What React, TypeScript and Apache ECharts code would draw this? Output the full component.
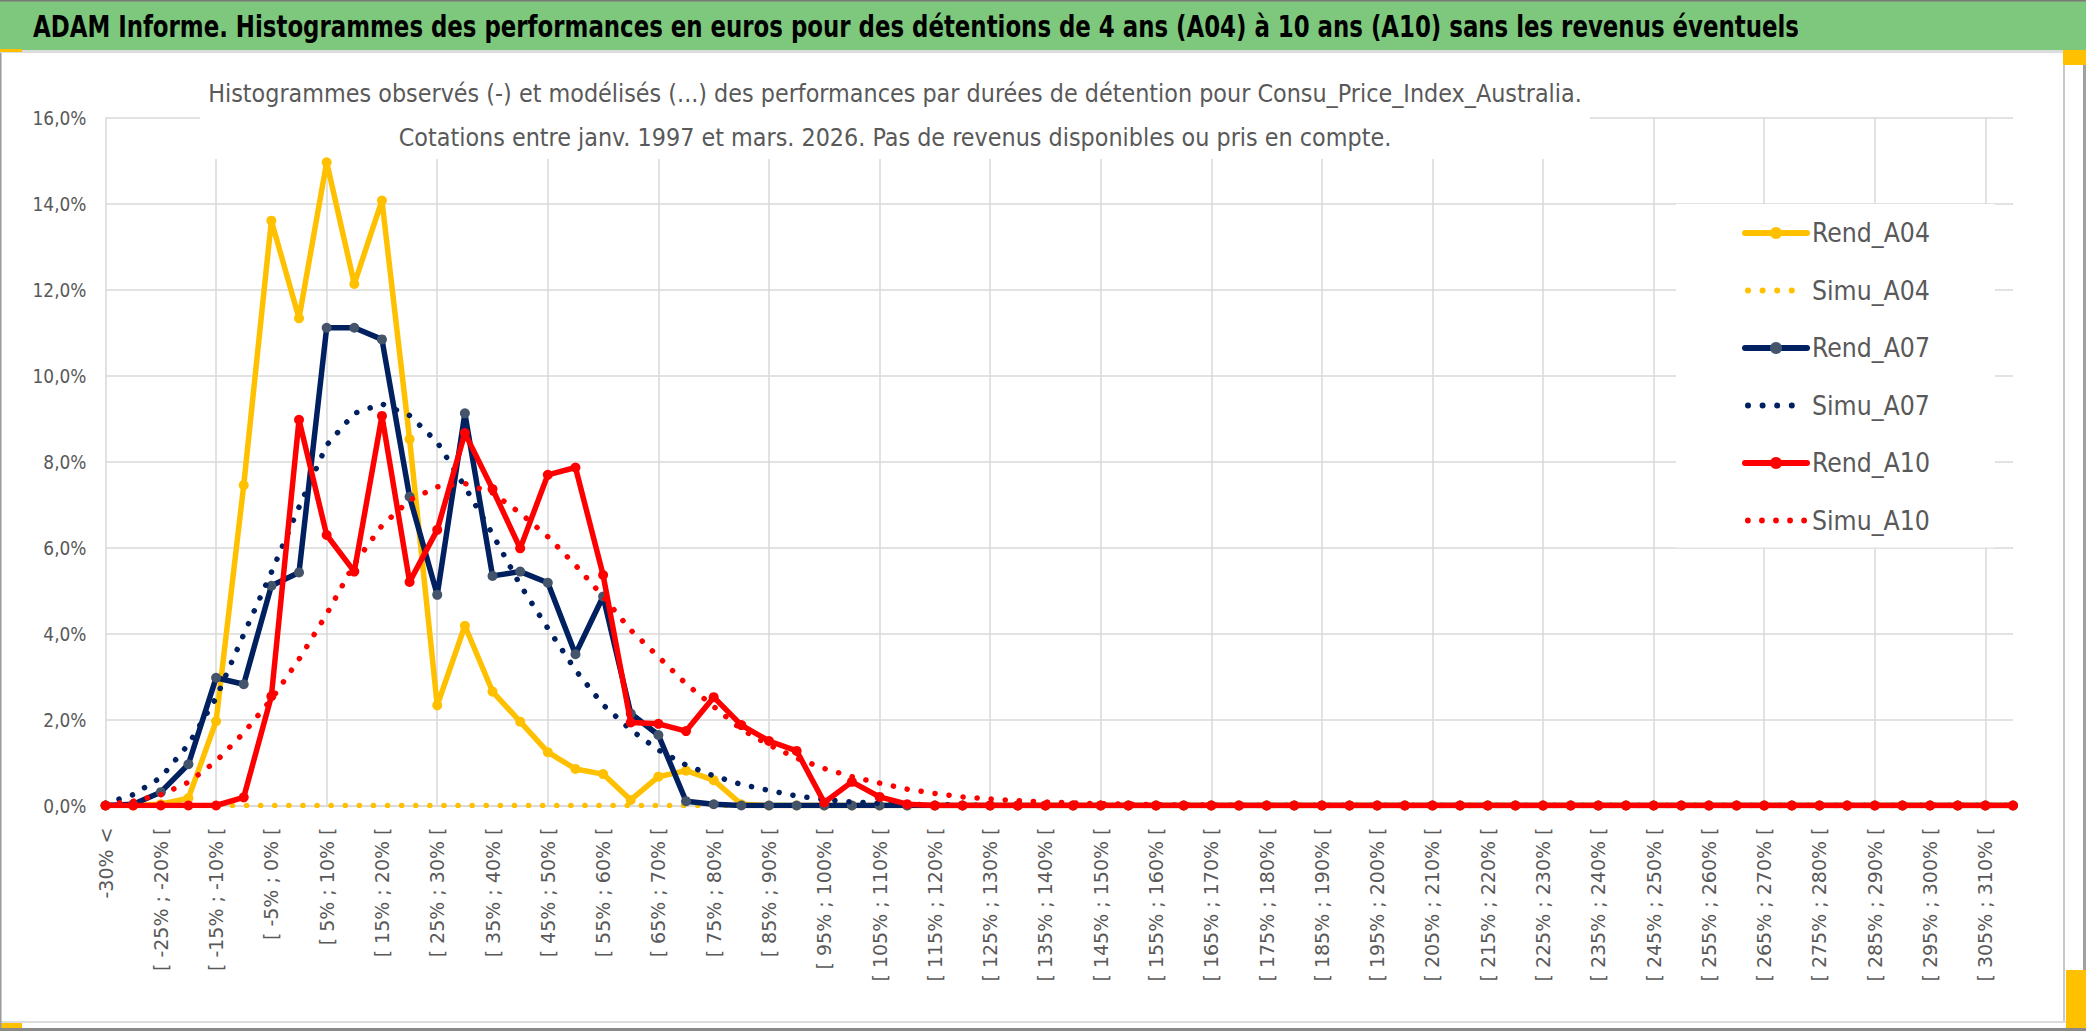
import React, { useEffect, useRef } from "react";
import * as echarts from "echarts";

const categories = [
  "-30% <", "[ -30% ; -25% [", "[ -25% ; -20% [", "[ -20% ; -15% [", "[ -15% ; -10% [", "[ -10% ; -5% [",
  "[ -5% ; 0% [", "[ 0% ; 5% [", "[ 5% ; 10% [", "[ 10% ; 15% [", "[ 15% ; 20% [", "[ 20% ; 25% [",
  "[ 25% ; 30% [", "[ 30% ; 35% [", "[ 35% ; 40% [", "[ 40% ; 45% [", "[ 45% ; 50% [", "[ 50% ; 55% [",
  "[ 55% ; 60% [", "[ 60% ; 65% [", "[ 65% ; 70% [", "[ 70% ; 75% [", "[ 75% ; 80% [", "[ 80% ; 85% [",
  "[ 85% ; 90% [", "[ 90% ; 95% [", "[ 95% ; 100% [", "[ 100% ; 105% [", "[ 105% ; 110% [", "[ 110% ; 115% [",
  "[ 115% ; 120% [", "[ 120% ; 125% [", "[ 125% ; 130% [", "[ 130% ; 135% [", "[ 135% ; 140% [", "[ 140% ; 145% [",
  "[ 145% ; 150% [", "[ 150% ; 155% [", "[ 155% ; 160% [", "[ 160% ; 165% [", "[ 165% ; 170% [", "[ 170% ; 175% [",
  "[ 175% ; 180% [", "[ 180% ; 185% [", "[ 185% ; 190% [", "[ 190% ; 195% [", "[ 195% ; 200% [", "[ 200% ; 205% [",
  "[ 205% ; 210% [", "[ 210% ; 215% [", "[ 215% ; 220% [", "[ 220% ; 225% [", "[ 225% ; 230% [", "[ 230% ; 235% [",
  "[ 235% ; 240% [", "[ 240% ; 245% [", "[ 245% ; 250% [", "[ 250% ; 255% [", "[ 255% ; 260% [", "[ 260% ; 265% [",
  "[ 265% ; 270% [", "[ 270% ; 275% [", "[ 275% ; 280% [", "[ 280% ; 285% [", "[ 285% ; 290% [", "[ 290% ; 295% [",
  "[ 295% ; 300% [", "[ 300% ; 305% [", "[ 305% ; 310% [", "[ 310% ; 315% [",
];

// values in percent
const rendA04 = [
  0, 0, 0.03, 0.17, 1.96, 7.45, 13.6, 11.33, 14.96, 12.13, 14.07, 8.52, 2.33, 4.18, 2.65, 1.95, 1.24, 0.85, 0.73, 0.13,
  0.67, 0.81, 0.59, 0.03, 0, 0, 0, 0, 0, 0, 0, 0, 0, 0, 0, 0, 0, 0, 0, 0,
  0, 0, 0, 0, 0, 0, 0, 0, 0, 0, 0, 0, 0, 0, 0, 0, 0, 0, 0, 0,
  0, 0, 0, 0, 0, 0, 0, 0, 0, 0,
];
const simuA04 = [
  0, 0, 0, 0, 0, 0, 0, 0, 0, 0, 0, 0, 0, 0, 0, 0, 0, 0, 0, 0,
  0, 0, 0, 0, 0, 0, 0, 0, 0, 0, 0, 0, 0, 0, 0, 0, 0, 0, 0, 0,
  0, 0, 0, 0, 0, 0, 0, 0, 0, 0, 0, 0, 0, 0, 0, 0, 0, 0, 0, 0,
  0, 0, 0, 0, 0, 0, 0, 0, 0, 0,
];
const rendA07 = [
  0, 0.03, 0.31, 0.96, 2.97, 2.82, 5.11, 5.42, 11.11, 11.11, 10.84, 7.18, 4.9, 9.12, 5.34, 5.44, 5.18, 3.52, 4.86, 2.14,
  1.64, 0.1, 0.03, 0, 0, 0, 0, 0, 0, 0, 0, 0, 0, 0, 0, 0, 0, 0, 0, 0,
  0, 0, 0, 0, 0, 0, 0, 0, 0, 0, 0, 0, 0, 0, 0, 0, 0, 0, 0, 0,
  0, 0, 0, 0, 0, 0, 0, 0, 0, 0,
];
const simuA07 = [
  0.05, 0.25, 0.65, 1.42, 2.5, 3.98, 5.42, 6.94, 8.38, 9.12, 9.34, 9.07, 8.45, 7.41, 6.31, 5.13, 4.12, 3.15, 2.34, 1.76,
  1.29, 0.94, 0.69, 0.49, 0.35, 0.22, 0.14, 0.08, 0.05, 0.03, 0.02, 0.01, 0, 0, 0, 0, 0, 0, 0, 0,
  0, 0, 0, 0, 0, 0, 0, 0, 0, 0, 0, 0, 0, 0, 0, 0, 0, 0, 0, 0,
  0, 0, 0, 0, 0, 0, 0, 0, 0, 0,
];
const rendA10 = [
  0, 0, 0, 0, 0, 0.19, 2.54, 8.97, 6.29, 5.44, 9.06, 5.2, 6.41, 8.66, 7.36, 5.98, 7.69, 7.86, 5.36, 1.93,
  1.9, 1.73, 2.52, 1.87, 1.5, 1.27, 0.07, 0.55, 0.2, 0.03, 0, 0, 0, 0, 0, 0, 0, 0, 0, 0,
  0, 0, 0, 0, 0, 0, 0, 0, 0, 0, 0, 0, 0, 0, 0, 0, 0, 0, 0, 0,
  0, 0, 0, 0, 0, 0, 0, 0, 0, 0,
];
const simuA10 = [
  0.02, 0.1, 0.25, 0.54, 1.03, 1.69, 2.47, 3.4, 4.45, 5.62, 6.51, 7.1, 7.41, 7.49, 7.27, 6.8, 6.25, 5.59, 4.86, 4.08,
  3.46, 2.83, 2.3, 1.77, 1.41, 1.1, 0.86, 0.67, 0.52, 0.38, 0.28, 0.2, 0.15, 0.11, 0.08, 0.06, 0.04, 0.03, 0.02, 0.01,
  0.01, 0, 0, 0, 0, 0, 0, 0, 0, 0, 0, 0, 0, 0, 0, 0, 0, 0, 0, 0,
  0, 0, 0, 0, 0, 0, 0, 0, 0, 0,
];

const seriesNames = ["Rend_A04", "Simu_A04", "Rend_A07", "Simu_A07", "Rend_A10", "Simu_A10"];

const TITLE = "ADAM Informe. Histogrammes des performances en euros pour des détentions de 4 ans (A04) à 10 ans (A10) sans les revenus éventuels";
const SUB1 = "Histogrammes observés (-) et modélisés (...) des performances par durées de détention pour Consu_Price_Index_Australia.";
const SUB2 = "Cotations entre janv. 1997 et mars. 2026. Pas de revenus disponibles ou pris en compte.";

function hasFont(name: string): boolean {
  const ctx = document.createElement("canvas").getContext("2d");
  if (!ctx) return false;
  const s = "Histogrammes ADAM 0123456789 %_wmil";
  ctx.font = "40px monospace";
  const a = ctx.measureText(s).width;
  ctx.font = `40px "${name}", monospace`;
  const b = ctx.measureText(s).width;
  ctx.font = "40px serif";
  const c = ctx.measureText(s).width;
  ctx.font = `40px "${name}", serif`;
  const d = ctx.measureText(s).width;
  return a !== b || c !== d;
}

function textWidth(text: string, family: string, weight: string, size: number): number {
  const ctx = document.createElement("canvas").getContext("2d");
  if (!ctx) return text.length * size * 0.5;
  ctx.font = `${weight} ${size}px "${family}", sans-serif`;
  return ctx.measureText(text).width;
}

// legend icon made of round dots (bounding box fixed to 62 x 14 by two degenerate points)
function dotIcon(n: number): string {
  const r = 3;
  const cy = 7;
  let d = "path://M0,0L0.01,0M62,14L61.99,14";
  for (let i = 0; i < n; i++) {
    const cx = 3 + i * 14.6;
    d += `M${cx - r},${cy}a${r},${r} 0 1,0 ${2 * r},0a${r},${r} 0 1,0 ${-2 * r},0Z`;
  }
  return d;
}

export default function App() {
  const ref = useRef<HTMLDivElement>(null);

  useEffect(() => {
    if (!ref.current) return;
    const candidates = ["Liberation Sans Narrow", "DejaVu Sans Condensed", "Open Sans Condensed", "Roboto Condensed", "Noto Sans"];
    let narrow = "Noto Sans";
    for (const c of candidates) {
      if (hasFont(c)) { narrow = c; break; }
    }
    const fam = `"${narrow}", sans-serif`;
    const titleSize = 30;
    const titleScale = 1767 / textWidth(TITLE, narrow, "bold", titleSize);
    const subSize = 25;
    const subScale = 1374 / textWidth(SUB1, narrow, "normal", subSize);
    const legendSize = (100 * 118) / textWidth("Rend_A04", narrow, "normal", 100);
    const ySize = (100 * 54) / textWidth("16,0%", narrow, "normal", 100);

    const chart = echarts.init(ref.current, null, { renderer: "svg" });

    const solid = (name: string, data: number[], line: string, marker: string, z: number) => ({
      name, type: "line", data, z,
      symbol: "circle", symbolSize: 10, showSymbol: true, showAllSymbol: true,
      lineStyle: { color: line, width: 5.5, cap: "round", join: "round" },
      itemStyle: { color: marker, borderWidth: 0 },
      emphasis: { disabled: true },
    });
    const dotted = (name: string, data: number[], color: string, z: number) => ({
      name, type: "line", data, z,
      symbol: "none", showSymbol: false,
      lineStyle: { color, width: 5.5, type: [0.1, 14], cap: "round" },
      itemStyle: { color },
      emphasis: { disabled: true },
    });

    const option: any = {
      animation: false,
      backgroundColor: "#ffffff",
      grid: { left: 105.5, right: 73, top: 117.5, bottom: 225.5, containLabel: false },
      xAxis: {
        type: "category",
        data: categories,
        boundaryGap: false,
        axisLine: { show: true, lineStyle: { color: "#d9d9d9", width: 1.5 } },
        axisTick: { show: false },
        axisLabel: {
          interval: 1, rotate: 90, margin: 22,
          fontFamily: '"DejaVu Sans", sans-serif', fontSize: 19, color: "#595959",
        },
        splitLine: { show: true, interval: 3, lineStyle: { color: "#d9d9d9", width: 1.5 } },
      },
      yAxis: {
        type: "value",
        min: 0, max: 16, interval: 2,
        axisLine: { show: false },
        axisTick: { show: false },
        axisLabel: {
          margin: 19,
          fontFamily: fam, fontSize: ySize, color: "#595959",
          formatter: (v: number) => v.toFixed(1).replace(".", ",") + "%",
        },
        splitLine: { show: true, lineStyle: { color: "#d9d9d9", width: 1.5 } },
      },
      legend: {
        orient: "vertical",
        left: 1676, top: 204,
        padding: [14, 65, 12, 66],
        itemWidth: 62, itemHeight: 15, itemGap: 27.5,
        backgroundColor: "#ffffff",
        symbolKeepAspect: true,
        lineStyle: { width: 6, cap: "round" },
        textStyle: { fontFamily: fam, fontSize: legendSize, color: "#595959", lineHeight: 30 },
        data: [
          { name: "Rend_A04" },
          { name: "Simu_A04", icon: dotIcon(4) },
          { name: "Rend_A07" },
          { name: "Simu_A07", icon: dotIcon(4) },
          { name: "Rend_A10" },
          { name: "Simu_A10", icon: dotIcon(5) },
        ],
        selectedMode: false,
      },
      series: [
        solid(seriesNames[0], rendA04, "#FFC000", "#FFC000", 2),
        dotted(seriesNames[1], simuA04, "#FFC000", 3),
        solid(seriesNames[2], rendA07, "#002060", "#44546A", 4),
        dotted(seriesNames[3], simuA07, "#002060", 5),
        solid(seriesNames[4], rendA10, "#FF0000", "#FF0000", 6),
        dotted(seriesNames[5], simuA10, "#FF0000", 7),
      ],
      graphic: [
        { type: "rect", z: 0, silent: true, shape: { x: 0, y: 0, width: 2086, height: 50 }, style: { fill: "#7DC87D" } },
        { type: "rect", z: 0, silent: true, shape: { x: 0, y: 0, width: 2086, height: 1.5 }, style: { fill: "#7a7a7a" } },
        { type: "rect", z: 0, silent: true, shape: { x: 0, y: 50, width: 2066, height: 3 }, style: { fill: "#dcdcdc" } },
        { type: "rect", z: 0, silent: true, shape: { x: 0, y: 49, width: 22, height: 3 }, style: { fill: "#FFC000" } },
        { type: "rect", z: 0, silent: true, shape: { x: 2063, y: 53, width: 2, height: 969 }, style: { fill: "#c8c8c8" } },
        { type: "rect", z: 0, silent: true, shape: { x: 0, y: 1021, width: 2066, height: 2 }, style: { fill: "#dcdcdc" } },
        { type: "rect", z: 0, silent: true, shape: { x: 0, y: 1028, width: 2086, height: 3 }, style: { fill: "#8a8a8a" } },
        { type: "rect", z: 0, silent: true, shape: { x: 0, y: 1023, width: 22, height: 5 }, style: { fill: "#FFC000" } },
        { type: "rect", z: 0, silent: true, shape: { x: 2063, y: 50, width: 23, height: 15 }, style: { fill: "#FFC000" } },
        { type: "rect", z: 0, silent: true, shape: { x: 2066, y: 970, width: 20, height: 58 }, style: { fill: "#FFC000" } },
        { type: "rect", z: 0, silent: true, shape: { x: 2083, y: 65, width: 3, height: 905 }, style: { fill: "#a0a0a0" } },
        { type: "rect", z: 0, silent: true, shape: { x: 0, y: 53, width: 1.5, height: 975 }, style: { fill: "#9a9a9a" } },
        {
          type: "text", z: 10, silent: true, x: 33, y: 27, scaleX: titleScale,
          style: {
            text: TITLE, fill: "#000000", fontFamily: fam, fontWeight: "bold", fontSize: titleSize,
            textAlign: "left", textVerticalAlign: "middle", align: "left", verticalAlign: "middle",
          },
        },
        { type: "rect", z: 1, silent: true, shape: { x: 200, y: 62, width: 1390, height: 97 }, style: { fill: "#ffffff" } },
        {
          type: "text", z: 10, silent: true, x: 895, y: 93, scaleX: subScale,
          style: {
            text: SUB1, fill: "#595959", fontFamily: fam, fontSize: subSize,
            textAlign: "center", textVerticalAlign: "middle", align: "center", verticalAlign: "middle",
          },
        },
        {
          type: "text", z: 10, silent: true, x: 895, y: 137, scaleX: subScale,
          style: {
            text: SUB2, fill: "#595959", fontFamily: fam, fontSize: subSize,
            textAlign: "center", textVerticalAlign: "middle", align: "center", verticalAlign: "middle",
          },
        },
      ],
    };

    chart.setOption(option);
    return () => chart.dispose();
  }, []);

  return (
    <div
      ref={ref}
      style={{ position: "fixed", left: 0, top: 0, width: "2086px", height: "1031px", background: "#fff" }}
    />
  );
}
